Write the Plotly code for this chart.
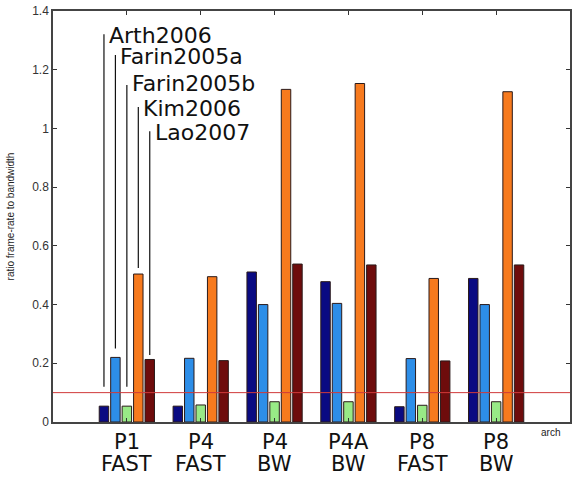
import plotly.graph_objects as go

# ---- data ----
cat_line1 = ["P1", "P4", "P4", "P4A", "P8", "P8"]
cat_line2 = ["FAST", "FAST", "BW", "BW", "FAST", "BW"]
group_pos = [1, 2, 3, 4, 5, 6]

series_names = ["Arth2006", "Farin2005a", "Farin2005b", "Kim2006", "Lao2007"]
arth2006 = [0.054, 0.054, 0.511, 0.478, 0.052, 0.489]
farin2005a = [0.220, 0.217, 0.400, 0.404, 0.216, 0.400]
farin2005b = [0.054, 0.058, 0.069, 0.069, 0.057, 0.069]
kim2006 = [0.504, 0.495, 1.133, 1.153, 0.489, 1.125]
lao2007 = [0.213, 0.209, 0.538, 0.535, 0.208, 0.535]
series_values = [arth2006, farin2005a, farin2005b, kim2006, lao2007]

threshold = 0.1

# leader lines for the labels (top / bottom in data units), attached to first group
label_line_top = [1.321, 1.25, 1.148, 1.073, 0.99]
label_line_bottom = [0.12, 0.25, 0.12, 0.525, 0.228]

y_ticks = [0, 0.2, 0.4, 0.6, 0.8, 1.0, 1.2, 1.4]
y_ticktext = ["0", "0.2", "0.4", "0.6", "0.8", "1", "1.2", "1.4"]

colors = ["#0a0a82", "#2d8ee8", "#98ea86", "#f77a1e", "#6e0c0c"]

# ---- figure ----
pitch = 0.155
bar_w = 0.128

fig = go.Figure()
for k, (name, vals) in enumerate(zip(series_names, series_values)):
    off = (k - 2) * pitch
    fig.add_trace(go.Bar(
        x=group_pos, y=vals, name=name,
        width=bar_w, offset=off - bar_w / 2,
        marker=dict(color=colors[k], line=dict(color="#2a1a1a", width=1)),
        showlegend=False,
    ))
    # leader line
    fig.add_trace(go.Scatter(
        x=[group_pos[0] + off, group_pos[0] + off],
        y=[label_line_bottom[k], label_line_top[k]],
        mode="lines", line=dict(color="#111111", width=1.2),
        showlegend=False, hoverinfo="skip",
    ))
    fig.add_annotation(
        x=group_pos[0] + off, y=label_line_top[k], xref="x", yref="y",
        text=name, showarrow=False, xanchor="left", yanchor="middle",
        xshift=3, yshift=-1 if k != 2 else 1,
        font=dict(family="DejaVu Sans", size=22, color="#111111"),
    )

fig.add_hline(y=threshold, line=dict(color="#d03a3a", width=1))

for gx, t1, t2 in zip(group_pos, cat_line1, cat_line2):
    fig.add_annotation(x=gx, y=-0.048, xref="x", yref="paper", text=t1,
                       showarrow=False, xanchor="center", yanchor="middle",
                       font=dict(family="DejaVu Sans", size=21, color="#111111"))
    fig.add_annotation(x=gx, y=-0.103, xref="x", yref="paper", text=t2,
                       showarrow=False, xanchor="center", yanchor="middle",
                       font=dict(family="DejaVu Sans", size=21, color="#111111"))

fig.add_annotation(x=0.94, y=-0.025, xref="paper", yref="paper", text="arch",
                   showarrow=False, xanchor="left", yanchor="middle",
                   font=dict(family="Liberation Sans", size=10, color="#222222"))

fig.update_layout(
    width=573, height=479,
    margin=dict(l=53, r=1, t=11, b=57),
    paper_bgcolor="white", plot_bgcolor="white",
    barmode="overlay",
    showlegend=False,
    font=dict(family="Liberation Sans", color="#222222"),
)
fig.update_xaxes(
    range=[0, 7], tickvals=group_pos, ticktext=[""] * len(group_pos),
    ticks="inside", ticklen=4, tickcolor="#333333",
    showline=True, linecolor="#444444", linewidth=1.5, mirror="ticks",
    showgrid=False, zeroline=False,
)
fig.update_yaxes(
    range=[0, 1.4], tickvals=y_ticks, ticktext=y_ticktext,
    ticks="inside", ticklen=4, tickcolor="#333333",
    showline=True, linecolor="#444444", linewidth=1.5, mirror="ticks",
    showgrid=False, zeroline=False,
    tickfont=dict(family="Liberation Sans", size=12, color="#333333"),
    title=dict(text="ratio frame-rate to bandwidth", standoff=16,
               font=dict(family="Liberation Sans", size=10, color="#222222")),
)

fig.write_html(
    "out.html",
    config={"displayModeBar": False},
    post_script="document.body.style.margin='0';document.body.style.overflow='hidden';",
)
